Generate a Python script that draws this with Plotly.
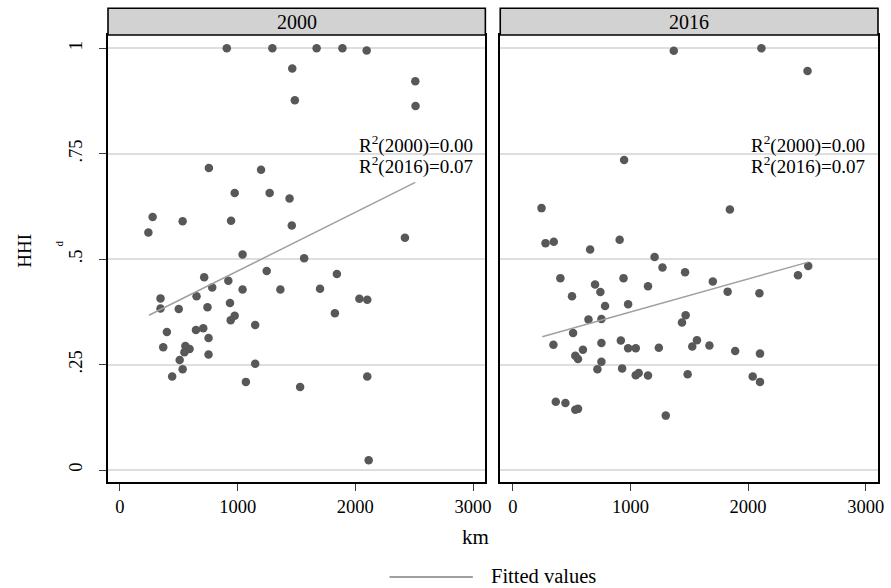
import plotly.graph_objects as go

# ---------------- data ----------------
panels = ["2000", "2016"]

km_2000 = [908, 1295, 1671, 1890, 2096, 1464, 2509, 1486, 2511, 756,
           1199, 975, 1272, 1441, 278, 533, 944, 1460, 242, 2421,
           1042, 1565, 1247, 1843, 716, 921, 784, 1042, 1363, 1700,
           345, 651, 2034, 2101, 345, 500, 744, 935, 1826, 975,
           941, 1149, 399, 646, 708, 753, 368, 556, 592, 548,
           753, 508, 1149, 533, 444, 2101, 1070, 1531, 2113]
hhi_2000 = [1.000, 1.000, 1.000, 1.000, 0.995, 0.952, 0.922, 0.877, 0.863, 0.716,
            0.712, 0.657, 0.657, 0.644, 0.600, 0.590, 0.591, 0.580, 0.563, 0.551,
            0.511, 0.502, 0.472, 0.465, 0.457, 0.449, 0.433, 0.428, 0.428, 0.430,
            0.407, 0.412, 0.406, 0.404, 0.383, 0.382, 0.386, 0.396, 0.372, 0.366,
            0.355, 0.344, 0.327, 0.332, 0.336, 0.313, 0.291, 0.294, 0.287, 0.279,
            0.274, 0.261, 0.252, 0.239, 0.222, 0.222, 0.209, 0.197, 0.023]

km_2016 = [1368, 2113, 2505, 946, 244, 1845, 278, 348, 657, 908,
           1205, 1272, 1464, 404, 941, 699, 744, 1149, 1700, 1826,
           2096, 2424, 2511, 503, 784, 980, 1469, 1438, 643, 753,
           512, 345, 596, 531, 554, 753, 918, 980, 1045, 1241,
           1525, 1565, 1671, 1890, 2101, 753, 719, 929, 1045, 1070,
           1149, 1486, 2039, 2101, 365, 447, 531, 554, 1300]
hhi_2016 = [0.994, 1.000, 0.946, 0.735, 0.621, 0.618, 0.538, 0.541, 0.523, 0.546,
            0.505, 0.480, 0.469, 0.455, 0.455, 0.440, 0.422, 0.436, 0.447, 0.423,
            0.419, 0.462, 0.484, 0.412, 0.389, 0.393, 0.367, 0.350, 0.357, 0.358,
            0.325, 0.297, 0.285, 0.271, 0.263, 0.301, 0.307, 0.289, 0.289, 0.290,
            0.293, 0.308, 0.295, 0.282, 0.276, 0.257, 0.239, 0.241, 0.225, 0.230,
            0.224, 0.227, 0.222, 0.209, 0.162, 0.159, 0.143, 0.145, 0.129]

fit_km_2000 = [247, 2509]
fit_hhi_2000 = [0.367, 0.682]
fit_km_2016 = [250, 2511]
fit_hhi_2016 = [0.316, 0.493]

x_ticks = [0, 1000, 2000, 3000]
x_tick_labels = ["0", "1000", "2000", "3000"]
y_ticks = [0, 0.25, 0.5, 0.75, 1]
y_tick_labels = ["0", ".25", ".5", ".75", "1"]
r2_lines = ["R<sup>2</sup>(2000)=0.00", "R<sup>2</sup>(2016)=0.07"]
r2_x = 2010
r2_y = [0.771, 0.723]

# ---------------- styling ----------------
FONT = "Liberation Serif, Times New Roman, serif"
DOT = "rgb(88,88,88)"
FITC = "rgb(160,160,160)"
GRID = "rgb(222,222,222)"
STRIP = "rgb(210,210,210)"

fig = go.Figure()

fig.add_trace(go.Scatter(x=km_2000, y=hhi_2000, mode="markers", xaxis="x", yaxis="y",
                         marker=dict(color=DOT, size=8.5, line=dict(width=0)),
                         showlegend=False, hoverinfo="x+y"))
fig.add_trace(go.Scatter(x=fit_km_2000, y=fit_hhi_2000, mode="lines", xaxis="x", yaxis="y",
                         line=dict(color=FITC, width=1.5), showlegend=False))
fig.add_trace(go.Scatter(x=km_2016, y=hhi_2016, mode="markers", xaxis="x2", yaxis="y2",
                         marker=dict(color=DOT, size=8.5, line=dict(width=0)),
                         showlegend=False, hoverinfo="x+y"))
fig.add_trace(go.Scatter(x=fit_km_2016, y=fit_hhi_2016, mode="lines", xaxis="x2", yaxis="y2",
                         line=dict(color=FITC, width=1.5), showlegend=False))

W, H = 891, 588
ml, mr, mt, mb = 108, 7, 8, 106
pw = W - ml - mr
ph = H - mt - mb

def px_x(p):
    return (p - ml) / pw

def px_y(p):
    return (H - mb - p) / ph

dom1 = [0, px_x(488.3)]
dom2 = [px_x(503.3), 1]
ydom = [0, px_y(35)]
yrange = [-0.0284, 1.0315]

xcommon = dict(tickmode="array", tickvals=x_ticks, ticktext=x_tick_labels,
               ticks="outside", ticklen=7, tickwidth=1.2, tickcolor="rgb(60,60,60)",
               showline=True, linecolor="black", linewidth=1.6, mirror=True,
               showgrid=False, zeroline=False,
               tickfont=dict(family=FONT, size=18.5, color="black"))
ycommon = dict(range=yrange, domain=ydom, tickmode="array", tickvals=y_ticks,
               showline=True, linecolor="black", linewidth=1.6, mirror=True,
               showgrid=True, gridcolor=GRID, gridwidth=1.6, zeroline=False)

fig.update_layout(
    width=W, height=H,
    margin=dict(l=ml, r=mr, t=mt, b=mb, pad=0),
    paper_bgcolor="white", plot_bgcolor="white",
    font=dict(family=FONT, color="black"),
    showlegend=False,
    xaxis=dict(domain=dom1, range=[-101, 3104], anchor="y", **xcommon),
    xaxis2=dict(domain=dom2, range=[-107, 3104], anchor="y2", **xcommon),
    yaxis=dict(anchor="x", ticktext=y_tick_labels, ticks="outside", ticklen=7,
               tickwidth=1.2, tickcolor="rgb(60,60,60)", tickangle=-90,
               ticklabelstandoff=10,
               tickfont=dict(family=FONT, size=18.5, color="black"), **ycommon),
    yaxis2=dict(anchor="x2", showticklabels=False, ticks="", matches="y", **ycommon),
)

shapes = []
annotations = []
for i, (dom, name) in enumerate(zip([dom1, dom2], panels)):
    shapes.append(dict(type="rect", xref="paper", yref="paper",
                       x0=dom[0], x1=dom[1], y0=ydom[1], y1=px_y(8.3),
                       fillcolor=STRIP, line=dict(color="black", width=1.6), layer="above"))
    annotations.append(dict(xref="paper", yref="paper", x=(dom[0] + dom[1]) / 2,
                            y=(ydom[1] + px_y(8.3)) / 2, text=name, showarrow=False,
                            xanchor="center", yanchor="middle",
                            font=dict(family=FONT, size=20, color="black")))
    xr = "x" if i == 0 else "x2"
    yr = "y" if i == 0 else "y2"
    for txt, yy in zip(r2_lines, r2_y):
        annotations.append(dict(xref=xr, yref=yr, x=r2_x, y=yy, text=txt, showarrow=False,
                                xanchor="left", yanchor="middle",
                                font=dict(family=FONT, size=19, color="black")))

# axis titles
annotations.append(dict(xref="paper", yref="paper", x=px_x(23), y=px_y(251), text="HHI",
                        textangle=-90, showarrow=False, xanchor="center", yanchor="middle",
                        font=dict(family=FONT, size=19, color="black")))
annotations.append(dict(xref="paper", yref="paper", x=px_x(59), y=px_y(243), text="d",
                        textangle=-90, showarrow=False, xanchor="center", yanchor="middle",
                        font=dict(family=FONT, size=11, color="black")))
annotations.append(dict(xref="paper", yref="paper", x=px_x(478), y=px_y(537), text="km",
                        showarrow=False, xanchor="center", yanchor="middle",
                        font=dict(family=FONT, size=21, color="black")))

# legend (drawn manually to match the long key line)
shapes.append(dict(type="line", xref="paper", yref="paper",
                   x0=px_x(391.7), x1=px_x(475.7), y0=px_y(577), y1=px_y(577),
                   line=dict(color=FITC, width=2)))
annotations.append(dict(xref="paper", yref="paper", x=px_x(491.7), y=px_y(575.5),
                        text="Fitted values", showarrow=False, xanchor="left", yanchor="middle",
                        font=dict(family=FONT, size=20.5, color="black")))

fig.update_layout(shapes=shapes, annotations=annotations)

fig.write_html("out.html", config={"displayModeBar": False},
               post_script="document.body.style.margin='0';document.body.style.padding='0';")
